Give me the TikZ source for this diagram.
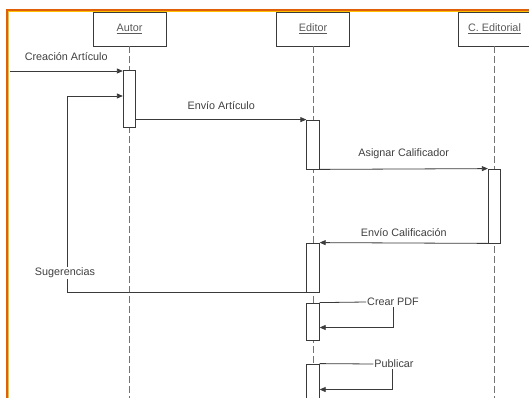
\documentclass[tikz,border=0pt]{standalone}
\usepackage{fontspec}
\setmainfont{Liberation Sans}
\usepackage{xcolor}
\usepackage{tikz}
\usetikzlibrary{arrows.meta,positioning,calc}
\definecolor{framedark}{HTML}{E0600A}
\definecolor{framelight}{HTML}{FFC000}
\definecolor{ink}{HTML}{3A3A3A}

\begin{document}
\begin{tikzpicture}[
  x=1pt, y=-1pt,
  head/.style={draw=ink, fill=white, minimum width=73pt, minimum height=34pt, inner sep=0pt, font=\fontsize{10.8}{12}\selectfont, text=black!65},
  act/.style={draw=ink, fill=white, minimum width=12.5pt, inner sep=0pt, line width=0.8pt},
  life/.style={draw=black!55, dash pattern=on 7pt off 3pt, line width=0.9pt},
  msg/.style={draw=ink, line width=0.8pt, -{Triangle[length=6pt,width=5pt]}},
  plain/.style={draw=ink, line width=0.8pt},
  lbl/.style={font=\fontsize{10.8}{12}\selectfont, text=black!75, inner sep=1pt}
]
  \useasboundingbox (0,0) rectangle (529,398);

  % Frame
  \draw[framedark, line width=2pt] (7,405) -- (7,10) -- (535,10);
  \draw[framelight, line width=1pt] (8.5,405) -- (8.5,11.5) -- (535,11.5);

  % Draw lifeline heads
  \node[head] (autor) at (129.5, 29) {\underline{Autor}};
  \node[head] (editor) at (313, 29) {\underline{Editor}};
  \node[head] (cedit) at (494.5, 29) {\underline{C. Editorial}};

  % Lifelines
  \coordinate (autorend) at (129.5, 410);
  \coordinate (editorend) at (313, 410);
  \coordinate (ceditend) at (494.5, 410);
  \draw[life] (autor) -- (autorend);
  \draw[life] (editor) -- (editorend);
  \draw[life] (cedit) -- (ceditend);

  % Activations
  \node[act, minimum height=57pt] (a1) at (129.5, 98.5) {};
  \node[act, minimum height=49pt] (e1) at (313, 144.5) {};
  \node[act, minimum height=74pt] (c1) at (494.5, 206) {};
  \node[act, minimum height=49pt] (e2) at (313, 267.5) {};
  \node[act, minimum height=37pt] (e3) at (313, 321.5) {};
  \node[act, minimum height=51pt] (e4) at (313, 389.5) {};

  % Messages
  \coordinate (start) at (9.5, 71);
  \draw[msg] (start) -- (start -| a1.west) node[lbl, midway, above=9pt] {Creación Artículo};
  \draw[msg] (e1.north west -| a1.east) -- (e1.north west) node[lbl, midway, above=9pt] {Envío Artículo};
  \draw[msg] (e1.south east) -- (c1.north west) node[lbl, midway, above=9pt] {Asignar Calificador};
  \draw[msg] (c1.south west) -- (e2.north east) node[lbl, midway, above=5pt] {Envío Calificación};

  \coordinate (sug) at (67.5, 96);
  \draw[msg] (e2.south west) -| (sug) -- (sug -| a1.west);
  \node[lbl, fill=white] (suglbl) at (65, 273) {Sugerencias};

  % Self messages
  \node[lbl, fill=white] (pdf) at (393, 302) {Crear PDF};
  \draw[plain] (e3.north east) -- (pdf.west);
  \draw[msg] (pdf.south) |- ([yshift=-6pt]e3.east);

  \node[lbl, fill=white] (pub) at (394, 364) {Publicar};
  \draw[plain] (e4.north east) -- (pub.west);
  \draw[msg] ([xshift=-2pt]pub.south) |- (e4.east);
\end{tikzpicture}
\end{document}
